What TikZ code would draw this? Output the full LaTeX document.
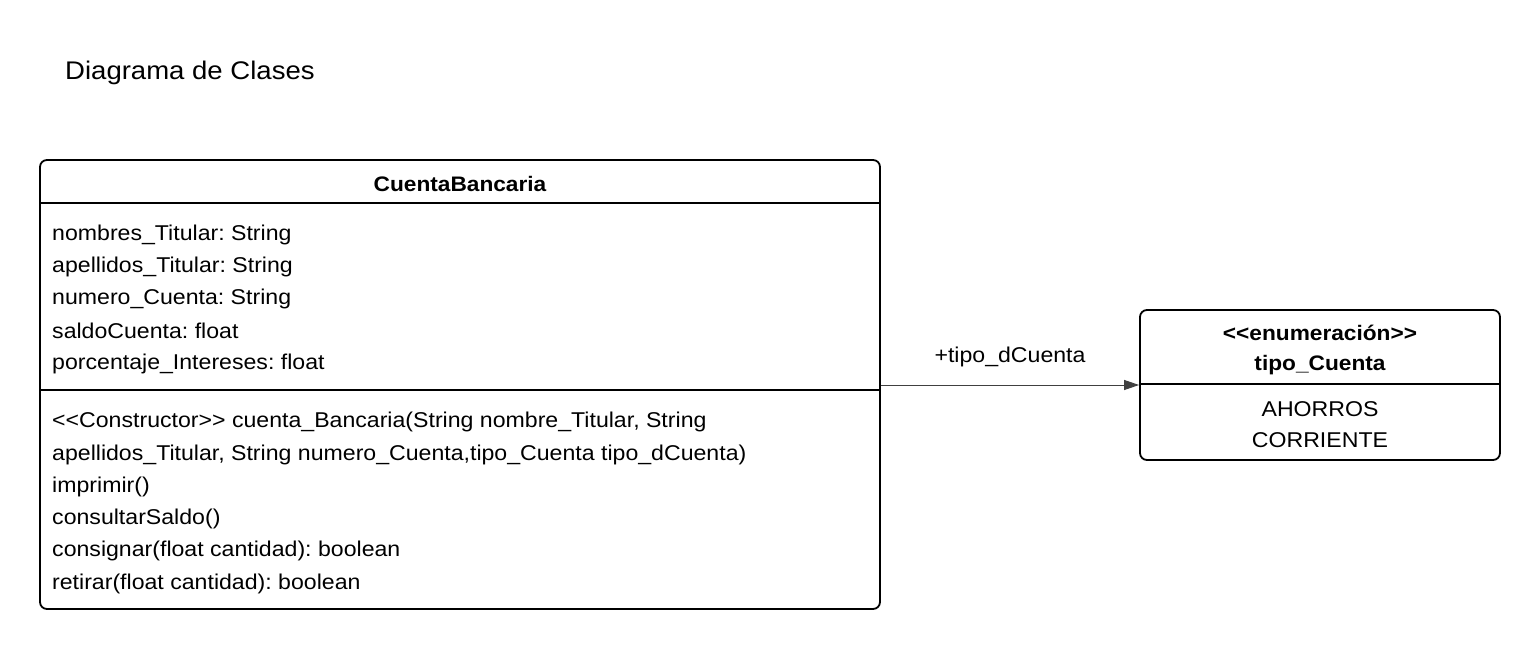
\documentclass[tikz,border=0pt]{standalone}
\usepackage{fontspec}
\setmainfont{Liberation Sans}[FakeStretch=1.08]
\usetikzlibrary{arrows.meta}
\frenchspacing
\begin{document}
\begin{tikzpicture}[x=1pt,y=-1pt,
  box/.style={draw=black, line width=1.8pt, rounded corners=7pt, inner sep=0pt},
  txt/.style={anchor=west, inner sep=0pt, font=\fontsize{21.4}{25}\selectfont},
  ctxt/.style={inner sep=0pt, font=\fontsize{21.4}{25}\selectfont},
  btxt/.style={inner sep=0pt, font=\fontsize{21}{25}\selectfont\bfseries},
  sep/.style={line width=1.8pt},
  assoc/.style={draw=black!75, line width=1pt, -{Triangle[length=15pt,width=10pt]}}]
\useasboundingbox[fill=white] (0,0) rectangle (1540,650);
\node[txt, font=\fontsize{25.5}{30}\selectfont] (title) at (65,72.5) {Diagrama de Clases};
% class box
\node[box, minimum width=840pt, minimum height=449pt] (cb) at (460,384.5) {};
\node[btxt] (cbname) at (460,184) {CuentaBancaria};
\coordinate (s1) at (40,203);
\coordinate (s2) at (40,390);
\draw[sep] (s1) -- (s1 -| cb.east);
\draw[sep] (s2) -- (s2 -| cb.east);
\node[txt] (a1) at (52,234.5) {nombres\_Titular: String};
\node[txt] (a2) at (52,266.5) {apellidos\_Titular: String};
\node[txt] (a3) at (52,299) {numero\_Cuenta: String};
\node[txt] (a4) at (52,331) {saldoCuenta: float};
\node[txt] (a5) at (52,363.5) {porcentaje\_Intereses: float};
\node[txt] (m1) at (52,422) {<{}<Constructor>{}> cuenta\_Bancaria(String nombre\_Titular, String};
\node[txt] (m2) at (52,454.5) {apellidos\_Titular, String numero\_Cuenta,tipo\_Cuenta tipo\_dCuenta)};
\node[txt] (m3) at (52,486.5) {imprimir()};
\node[txt] (m4) at (52,519) {consultarSaldo()};
\node[txt] (m5) at (52,551) {consignar(float cantidad): boolean};
\node[txt] (m6) at (52,583.5) {retirar(float cantidad): boolean};
% enum box
\node[box, minimum width=360pt, minimum height=150pt] (en) at (1320,385) {};
\node[btxt] (e1) at (1320,333) {<{}<enumeración>{}>};
\node[btxt] (e2) at (1320,365.5) {tipo\_Cuenta};
\coordinate (s3) at (1140,384);
\draw[sep] (s3) -- (s3 -| en.east);
\node[ctxt] (v1) at (1320,409) {AHORROS};
\node[ctxt] (v2) at (1320,440) {CORRIENTE};
% association
\coordinate (ay) at (0,385);
\draw[assoc] (cb.east |- ay) -- (en.west |- ay);
\node[ctxt] (lbl) at (1010,357) {+tipo\_dCuenta};
\end{tikzpicture}
\end{document}
